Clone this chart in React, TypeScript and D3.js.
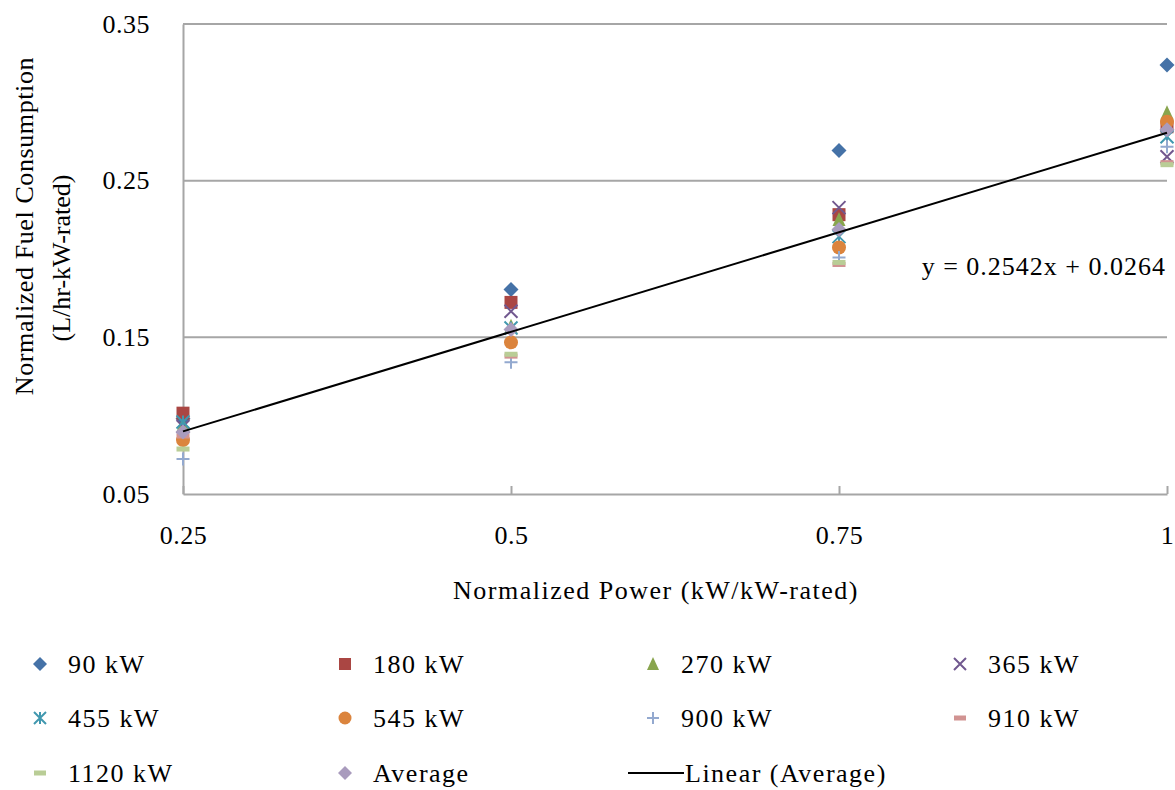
import React, { useEffect, useRef } from "react";
import * as d3 from "d3";

const xValues = [0.25, 0.5, 0.75, 1];
const yTicks = [0.05, 0.15, 0.25, 0.35];
const xTicks = [0.25, 0.5, 0.75, 1];

const s90 = [0.098, 0.1806, 0.2693, 0.3239];
const s180 = [0.1016, 0.1723, 0.2283, 0.2844];
const s270 = [0.094, 0.157, 0.2252, 0.2933];
const s365 = [0.093, 0.1666, 0.2328, 0.2653];
const s455 = [0.096, 0.156, 0.2143, 0.278];
const s545 = [0.0844, 0.1468, 0.2073, 0.2876];
const s900 = [0.0723, 0.1341, 0.201, 0.2717];
const s910 = [0.087, 0.138, 0.1965, 0.2615];
const s1120 = [0.0787, 0.1392, 0.1978, 0.2602];
const sAvg = [0.0895, 0.155, 0.2188, 0.2825];

const slope = 0.2542;
const intercept = 0.0264;

const series = [
  { name: "90 kW", values: s90, shape: "diamond", color: "#4572A7" },
  { name: "180 kW", values: s180, shape: "square", color: "#AA4643" },
  { name: "270 kW", values: s270, shape: "triangle", color: "#89A54E" },
  { name: "365 kW", values: s365, shape: "x", color: "#71588F" },
  { name: "455 kW", values: s455, shape: "star", color: "#4198AF" },
  { name: "545 kW", values: s545, shape: "circle", color: "#DB843D" },
  { name: "900 kW", values: s900, shape: "plus", color: "#93A9CF" },
  { name: "910 kW", values: s910, shape: "dash", color: "#D19392" },
  { name: "1120 kW", values: s1120, shape: "dash", color: "#B9CD96" },
  { name: "Average", values: sAvg, shape: "diamond", color: "#A99BBD" },
];

const FONT = "'Liberation Serif', 'DejaVu Serif', serif";
const FS = 26;

function styleText(sel, ls = 1.5) {
  return sel
    .attr("font-family", FONT)
    .attr("font-size", FS)
    .attr("letter-spacing", ls)
    .attr("fill", "#000");
}

// draws one marker centred at (0,0)
function drawMarker(g, shape, color, s) {
  const h = s / 2;
  if (shape === "diamond") {
    g.append("path").attr("d", `M0,${-h - 1}L${h + 1},0L0,${h + 1}L${-h - 1},0Z`).attr("fill", color);
  } else if (shape === "square") {
    g.append("rect").attr("x", -h).attr("y", -h).attr("width", s).attr("height", s).attr("fill", color);
  } else if (shape === "triangle") {
    g.append("path").attr("d", `M0,${-h - 1}L${h},${h}L${-h},${h}Z`).attr("fill", color);
  } else if (shape === "circle") {
    g.append("circle").attr("r", h + 0.5).attr("fill", color);
  } else if (shape === "x") {
    g.append("path").attr("d", `M${-h},${-h}L${h},${h}M${h},${-h}L${-h},${h}`).attr("stroke", color).attr("stroke-width", 2);
  } else if (shape === "star") {
    g.append("path").attr("d", `M${-h},${-h}L${h},${h}M${h},${-h}L${-h},${h}M0,${-h}L0,${h}`).attr("stroke", color).attr("stroke-width", 2);
  } else if (shape === "plus") {
    g.append("path").attr("d", `M${-h},0L${h},0M0,${-h}L0,${h}`).attr("stroke", color).attr("stroke-width", 2);
  } else if (shape === "dash") {
    g.append("rect").attr("x", -h).attr("y", -2.5).attr("width", s).attr("height", 5).attr("fill", color);
  }
}

const App = () => {
  const svgRef = useRef(null);

  useEffect(() => {
    document.body.style.margin = "0";
    const width = 1175;
    const height = 790;
    const margin = { top: 24, right: 8, bottom: 296, left: 183 };

    const svg = d3.select(svgRef.current);
    svg.selectAll("*").remove();

    const x = d3.scaleLinear().domain([0.25, 1]).range([margin.left, width - margin.right]);
    const y = d3.scaleLinear().domain([0.05, 0.35]).range([height - margin.bottom, margin.top]);

    const axisColor = "#a6a6a6";

    // gridlines
    svg
      .append("g")
      .selectAll("line")
      .data(yTicks.slice(1))
      .join("line")
      .attr("x1", x(0.25))
      .attr("x2", x(1))
      .attr("y1", (d) => y(d))
      .attr("y2", (d) => y(d))
      .attr("stroke", axisColor)
      .attr("stroke-width", 2);

    // axes
    const yAxis = svg
      .append("g")
      .attr("transform", `translate(${x(0.25)},0)`)
      .call(d3.axisLeft(y).tickValues(yTicks).tickSize(0).tickPadding(33).tickFormat(d3.format(".2f")));
    yAxis.select(".domain").attr("stroke", axisColor).attr("stroke-width", 2);
    styleText(yAxis.selectAll("text"), 0.5);

    const xAxis = svg
      .append("g")
      .attr("transform", `translate(0,${y(0.05)})`)
      .call(
        d3
          .axisBottom(x)
          .tickValues(xTicks)
          .tickSizeInner(-8)
          .tickSizeOuter(0)
          .tickPadding(32)
          .tickFormat((d) => String(d))
      );
    xAxis.select(".domain").attr("stroke", axisColor).attr("stroke-width", 2);
    xAxis.selectAll(".tick line").attr("stroke", axisColor).attr("stroke-width", 2);
    styleText(xAxis.selectAll("text"), 0.5);
    xAxis.selectAll(".tick text").attr("dy", "0.71em");

    // points
    series.forEach((s) => {
      const g = svg.append("g");
      s.values.forEach((v, i) => {
        const m = g.append("g").attr("transform", `translate(${x(xValues[i])},${y(v)})`);
        drawMarker(m, s.shape, s.color, 13);
      });
    });

    // trend line
    const line = d3
      .line()
      .x((d) => x(d))
      .y((d) => y(slope * d + intercept));
    svg
      .append("path")
      .attr("d", line([0.25, 1]))
      .attr("fill", "none")
      .attr("stroke", "#000")
      .attr("stroke-width", 2);

    styleText(
      svg
        .append("text")
        .attr("x", 1166)
        .attr("y", 275)
        .attr("text-anchor", "end"),
      1
    ).text(`y = ${slope}x + ${intercept}`);

    // axis titles
    styleText(
      svg
        .append("text")
        .attr("x", (x(0.25) + x(1)) / 2 - 19)
        .attr("y", 599)
        .attr("text-anchor", "middle")
    ).text("Normalized Power (kW/kW-rated)");

    styleText(
      svg
        .append("text")
        .attr("transform", `translate(33,226) rotate(-90)`)
        .attr("text-anchor", "middle"),
      0.6
    ).text("Normalized Fuel Consumption");
    styleText(
      svg
        .append("text")
        .attr("transform", `translate(70,258) rotate(-90)`)
        .attr("text-anchor", "middle"),
      0
    ).text("(L/hr-kW-rated)");

    // legend
    const colX = [40, 345, 653, 960];
    const rowY = [664, 718, 773];
    series.forEach((s, i) => {
      const cx = colX[i % 4];
      const cy = rowY[Math.floor(i / 4)];
      const m = svg.append("g").attr("transform", `translate(${cx},${cy})`);
      drawMarker(m, s.shape, s.color, 12);
      styleText(
        svg
          .append("text")
          .attr("x", cx + 28)
          .attr("y", cy + 9)
      ).text(s.name);
    });
    const lx = colX[2] - 25;
    const ly = rowY[2];
    svg.append("line").attr("x1", lx).attr("x2", lx + 56).attr("y1", ly).attr("y2", ly).attr("stroke", "#000").attr("stroke-width", 2);
    styleText(
      svg
        .append("text")
        .attr("x", lx + 57)
        .attr("y", ly + 9)
    ).text("Linear (Average)");
  }, []);

  return <svg ref={svgRef} width={1175} height={790} style={{ display: "block" }}></svg>;
};

export default App;
